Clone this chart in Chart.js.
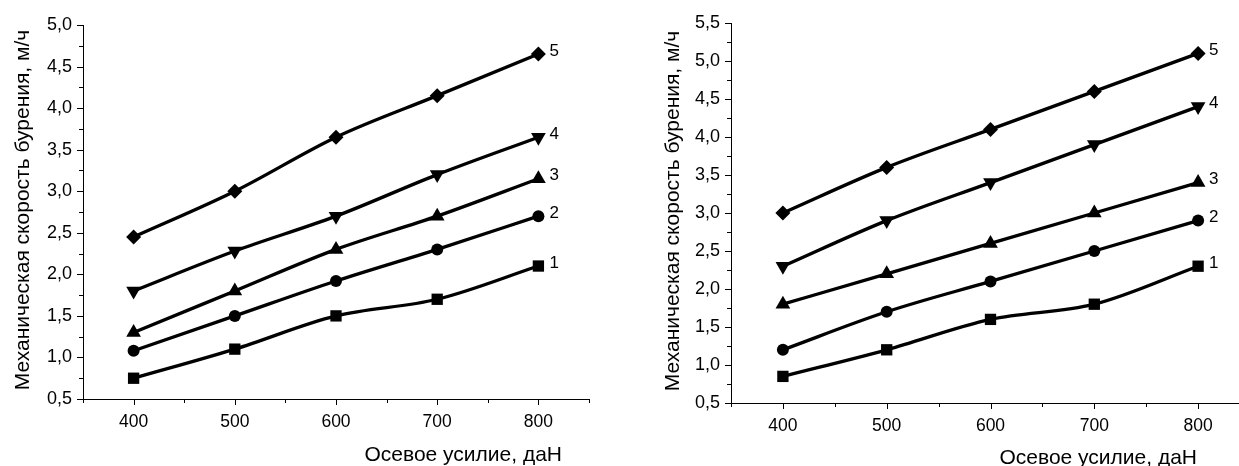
<!DOCTYPE html>
<html>
<head>
<meta charset="utf-8">
<script src="https://cdn.jsdelivr.net/npm/chart.js@4"></script>
<style>
html, body { margin:0; padding:0; background:#fff; overflow:hidden; }
#wrap { position:relative; width:1239px; height:466px; overflow:hidden; }
.box { position:absolute; top:0; height:466px; }
</style>
</head>
<body>
<div id="wrap">
	<div class="box" id="box1" style="left:0px; width:630px;"><canvas id="chart1"></canvas></div>
	<div class="box" id="box2" style="left:640px; width:640px;"><canvas id="chart2"></canvas></div>
</div>
<script>
var forces = [400, 500, 600, 700, 800];
var seriesNames = ["1", "2", "3", "4", "5"];

// левый график
var left1 = [0.75, 1.1, 1.5, 1.7, 2.1];
var left2 = [1.08, 1.5, 1.92, 2.3, 2.7];
var left3 = [1.3, 1.8, 2.3, 2.7, 3.15];
var left4 = [1.8, 2.28, 2.7, 3.2, 3.65];
var left5 = [2.45, 3.0, 3.65, 4.15, 4.65];

// правый график
var right1 = [0.85, 1.2, 1.6, 1.8, 2.3];
var right2 = [1.2, 1.7, 2.1, 2.5, 2.9];
var right3 = [1.8, 2.2, 2.6, 3.0, 3.4];
var right4 = [2.3, 2.9, 3.4, 3.9, 4.4];
var right5 = [3.0, 3.6, 4.1, 4.6, 5.1];

var yTitle = "Механическая скорость бурения, м/ч";
var xTitle = "Осевое усилие, даН";

var markers = [
	{style:"rect", radius:8, rotation:0},
	{style:"circle", radius:6, rotation:0},
	{style:"triangle", radius:8.5, rotation:0},
	{style:"triangle", radius:8.5, rotation:180},
	{style:"rectRot", radius:7.5, rotation:0}
];

var FONT = "Arial, 'Liberation Sans', sans-serif";

function makeDatasets(rows){
	var datasets = new Array();
	for(var i = 0; i < rows.length; i++){
		var pts = new Array();
		for(var j = 0; j < forces.length; j++){
			pts.push({x:forces[j], y:rows[i][j]});
		}
		datasets.push({
			label: seriesNames[i],
			data: pts,
			borderColor: "#000",
			backgroundColor: "#000",
			borderWidth: 3.3,
			cubicInterpolationMode: "monotone",
			pointStyle: markers[i].style,
			pointRadius: markers[i].radius,
			pointRotation: markers[i].rotation,
			pointBorderWidth: 0,
			pointBackgroundColor: "#000"
		});
	}
	return datasets;
}

// подписи серий, засечки и подписи осей
var decorPlugin = {
	id: "decor",
	afterDraw: function(chart, args, opts){
		var ctx = chart.ctx;
		var xs = chart.scales.x;
		var ys = chart.scales.y;
		ctx.save();
		ctx.strokeStyle = "#000";
		ctx.lineWidth = 1;
		ctx.beginPath();
		for(var v = xs.min; v <= xs.max + 0.001; v += 50){
			var px = Math.round(xs.getPixelForValue(v)) + 0.5;
			var len = (v % 100 == 0) ? 6 : 4;
			ctx.moveTo(px, xs.top);
			ctx.lineTo(px, xs.top + len);
		}
		for(var w = ys.min; w <= ys.max + 0.001; w += 0.25){
			var py = Math.round(ys.getPixelForValue(w)) + 0.5;
			var l2 = (Math.abs(w * 2 - Math.round(w * 2)) < 0.01) ? 6 : 4;
			ctx.moveTo(ys.right, py);
			ctx.lineTo(ys.right - l2, py);
		}
		ctx.stroke();

		ctx.fillStyle = "#000";
		ctx.font = "17px " + FONT;
		ctx.textAlign = "left";
		ctx.textBaseline = "middle";
		for(var i = 0; i < chart.data.datasets.length; i++){
			var meta = chart.getDatasetMeta(i);
			var last = meta.data[meta.data.length - 1];
			ctx.fillText(chart.data.datasets[i].label, last.x + 11, last.y - 3);
		}

		ctx.font = "21px " + FONT;
		ctx.textAlign = "right";
		ctx.fillText(xTitle, chart.chartArea.left + opts.titleRight, opts.titleY);

		ctx.translate(opts.yTitleX, opts.yTitleY);
		ctx.rotate(-Math.PI / 2);
		ctx.textAlign = "center";
		ctx.fillText(yTitle, 0, 0);
		ctx.restore();
	}
};

function yLabel(value){
	if(Math.abs(value * 2 - Math.round(value * 2)) < 0.01){
		return value.toFixed(1).replace(".", ",");
	}
	return "";
}

function xLabel(value){
	if(value % 100 == 0 && value >= 400 && value <= 800){
		return String(value);
	}
	return "";
}

function buildChart(canvasId, rows, yMin, yMax, pad, axisW, axisH, deco){
	var ctx = document.getElementById(canvasId).getContext("2d");
	return new Chart(ctx, {
		type: "line",
		data: { datasets: makeDatasets(rows) },
		options: {
			responsive: true,
			maintainAspectRatio: false,
			animation: false,
			events: [],
			layout: { padding: pad },
			plugins: {
				legend: { display:false },
				tooltip: { enabled:false },
				decor: deco
			},
			scales: {
				x: {
					type: "linear",
					min: 350,
					max: 850,
					afterBuildTicks: function(scale){
						var t = new Array();
						for(var v = 350; v <= scale.max; v += 50){ t.push({value:v}); }
						scale.ticks = t;
					},
					afterFit: function(scale){ scale.height = axisH; },
					grid: { display:false, drawTicks:false },
					border: { display:true, color:"#000", width:1 },
					ticks: {
						autoSkip: false,
						maxRotation: 0,
						padding: 13,
						color: "#000",
						font: { family: FONT, size: 17.5 },
						callback: xLabel
					}
				},
				y: {
					type: "linear",
					min: yMin,
					max: yMax,
					afterBuildTicks: function(scale){
						var t = new Array();
						for(var v = yMin; v <= yMax + 0.001; v += 0.25){ t.push({value:Math.round(v*100)/100}); }
						scale.ticks = t;
					},
					afterFit: function(scale){ scale.width = axisW; },
					grid: { display:false, drawTicks:false },
					border: { display:true, color:"#000", width:1 },
					ticks: {
						autoSkip: false,
						padding: 11,
						color: "#000",
						font: { family: FONT, size: 18 },
						callback: yLabel
					}
				}
			}
		},
		plugins: [decorPlugin]
	});
}

var chart1 = buildChart("chart1",
	[left1, left2, left3, left4, left5],
	0.5, 5.0,
	{left:0, top:25, right:41, bottom:0}, 83, 67,
	{titleRight: 479, titleY: 455, yTitleX: 23, yTitleY: 210});

var chart2 = buildChart("chart2",
	[right1, right2, right3, right4, right5],
	0.5, 5.5,
	{left:0, top:23, right:30, bottom:0}, 91, 63,
	{titleRight: 466, titleY: 458, yTitleX: 33, yTitleY: 211});
</script>
</body>
</html>
